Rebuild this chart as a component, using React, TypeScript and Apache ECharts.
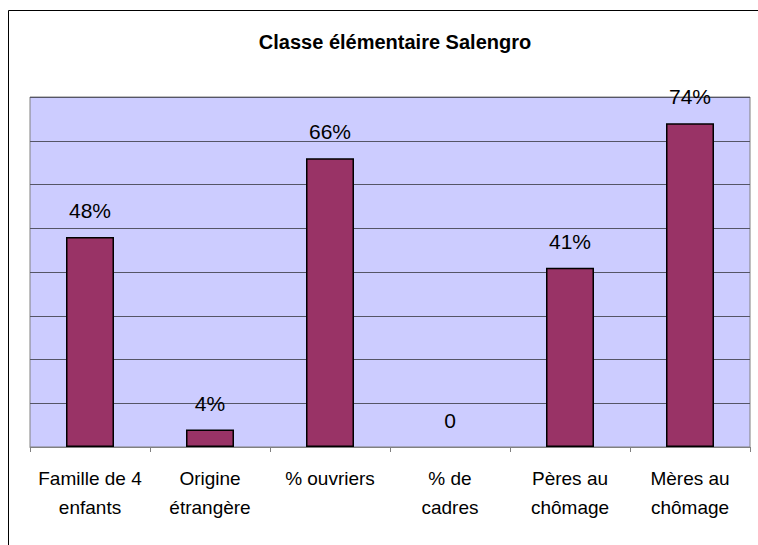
import React, { useEffect, useRef } from "react";
import * as echarts from "echarts";

const titleText = "Classe élémentaire Salengro";
const categories = [
  "Famille de 4\nenfants",
  "Origine\nétrangère",
  "% ouvriers",
  "% de\ncadres",
  "Pères au\nchômage",
  "Mères au\nchômage",
];
const values = [48, 4, 66, 0, 41, 74];
const yMax = 80;
const yInterval = 10;

const FONT = "'Liberation Sans', Arial, sans-serif";

export default function App() {
  const ref = useRef<HTMLDivElement>(null);
  useEffect(() => {
    if (!ref.current) return;
    const chart = echarts.init(ref.current, null, { renderer: "svg" });
    chart.setOption({
      animation: false,
      backgroundColor: "#ffffff",
      title: {
        text: titleText,
        left: 390,
        top: 27,
        textAlign: "center",
        textStyle: {
          fontFamily: FONT,
          fontWeight: "bold",
          fontSize: 20,
          color: "#000",
        },
      },
      graphic: [
        {
          type: "rect",
          shape: { x: 8.5, y: 10.5, width: 800, height: 600 },
          style: { fill: "none", stroke: "#000", lineWidth: 1 },
          silent: true,
        },
      ],
      grid: {
        left: 30,
        top: 97,
        right: 8,
        bottom: 98,
        show: true,
        backgroundColor: "#CCCCFF",
        borderColor: "#808080",
        borderWidth: 1,
      },
      xAxis: {
        type: "category",
        data: categories,
        axisLine: { show: true, lineStyle: { color: "#808080", width: 1 } },
        axisTick: { show: true, length: 5, lineStyle: { color: "#808080" } },
        axisLabel: {
          interval: 0,
          margin: 17,
          fontFamily: FONT,
          fontSize: 19,
          lineHeight: 29,
          color: "#000",
        },
      },
      yAxis: {
        type: "value",
        min: 0,
        max: yMax,
        interval: yInterval,
        axisLine: { show: false },
        axisTick: { show: false },
        axisLabel: { show: false },
        splitLine: { show: true, lineStyle: { color: "#555566", width: 1 } },
      },
      series: [
        {
          type: "bar",
          data: values.map((v) => ({
            value: v,
            itemStyle: v === 0 ? { borderWidth: 0, opacity: 0 } : undefined,
            label: v === 0 ? { opacity: 1 } : undefined,
          })),
          barWidth: 48,
          itemStyle: {
            color: "#993366",
            borderColor: "#000",
            borderWidth: 1.5,
          },
          label: {
            show: true,
            position: "top",
            distance: 16,
            fontFamily: FONT,
            fontSize: 21,
            color: "#000",
            formatter: (p: any) => (p.value === 0 ? "0" : p.value + "%"),
          },
        },
      ],
    });
    return () => chart.dispose();
  }, []);
  return (
    <div
      ref={ref}
      style={{ position: "absolute", left: 0, top: 0, width: 758, height: 545 }}
    />
  );
}
